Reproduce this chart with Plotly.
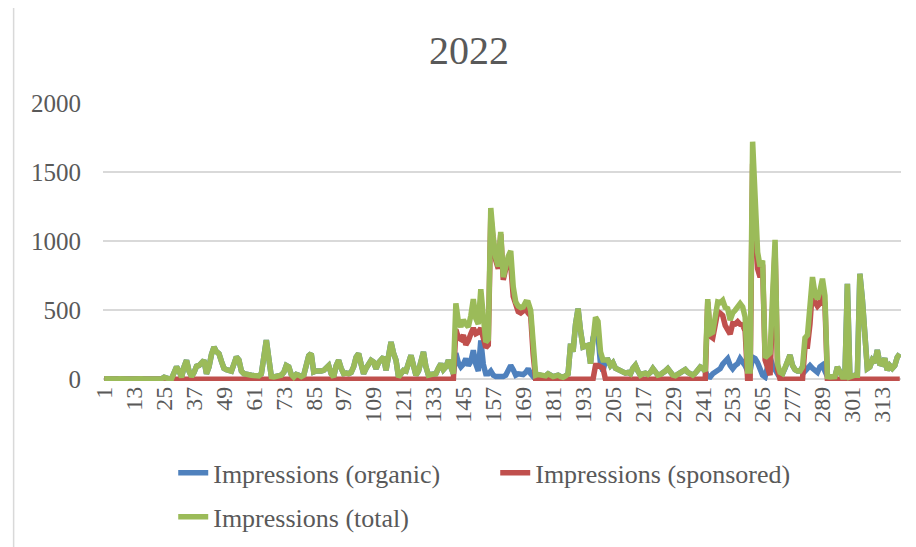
import plotly.graph_objects as go

# ---- data ----
days = list(range(1, 321))
tick_labels = [str(d) for d in range(1, 320, 12)]

org_a = [5, 3, 5, 2, 4, 3, 5, 2, 3, 4, 2, 3, 5, 2, 3, 4, 2, 3, 2, 4, 3, 2, 5, 4]
org_b = [15, 5, 3, 5, 40, 90, 60, 15, 90, 138,
         60, 20, 50, 95, 100, 120, 138, 41, 90, 180,
         234, 200, 186, 130, 80, 70, 65, 60, 110, 162,
         140, 60, 41, 35, 30, 30, 28, 30, 25, 40,
         180, 283, 150, 20, 17, 25, 25, 30, 50, 100,
         90, 35, 17, 36, 30, 20, 30, 90, 170, 186,
         53, 60, 55, 60, 65, 90, 100, 40, 17, 100,
         138, 80, 41, 45, 41, 50, 90, 160, 186, 110,
         41, 80, 120, 138, 126, 77, 120, 150, 162, 65,
         200, 270, 190, 138, 17, 40, 65, 60, 120, 174,
         100, 30, 60, 150, 198, 90, 30, 35, 40, 41,
         80, 113, 70, 90, 138, 80, 41]
org_c = [190, 120, 90, 110, 150, 100, 130, 210, 110, 60,
         282, 110, 40, 40, 60, 30, 20, 17, 17, 20,
         30, 60, 100, 70, 30, 40, 40, 35, 50, 77,
         40, 20]
spo_c = [360, 300, 290, 320, 250, 280, 330, 370, 330, 340,
         370, 300, 230, 250, 1180, 1000, 860, 800, 1050, 720,
         800, 830, 830, 600, 530, 490, 480, 490, 510, 480,
         460, 180]
org_d = [29, 35, 30, 20, 25, 40, 30, 20, 25, 30,
         20, 15, 25, 40, 258, 200, 400, 512, 350, 234,
         240, 246, 113, 300]
org_e = [350, 320, 110, 60]
spo_e = [100, 100, 90, 80]
org_f = [137, 140, 100, 120, 80, 70, 60, 50, 45, 50,
         40, 80, 102, 60, 30, 40, 45, 35, 50, 78,
         50, 30, 35, 45, 60, 78, 50, 30, 25, 35,
         45, 60, 70, 50, 40, 30, 45, 70, 90, 80,
         60]
org_g = [20, 17, 40, 53, 70, 77, 110, 130, 150, 100,
         77, 100, 113, 150, 130, 100, 60, 60, 160, 150,
         120, 77, 30, 17, 100, 160, 100, 60, 40]
spo_g = [560, 313, 300, 417, 490, 478, 462, 390, 362, 328,
         403, 400, 417, 398, 394, 350, 0, 0, 1560, 1100,
         800, 740, 830, 140, 80, 30, 500, 950, 70]
org_h = [50, 41, 80, 140, 176, 100, 70, 60, 60, 90]
org_i = [60, 80, 100, 80, 60, 50, 90, 103, 60]
spo_i = [240, 240, 400, 660, 560, 530, 550, 625, 545]
org_j = [20, 17, 15, 20, 90, 60, 17, 17, 691, 17,
         25, 30, 30, 764, 580, 300, 78, 90, 140, 120,
         213, 115, 110, 152, 66, 100, 80, 100, 160, 185]

organic = org_a + org_b + org_c + org_d + org_e + org_f + org_g + org_h + org_i + org_j
sponsored = ([0] * 24 + [0] * 117 + spo_c + [0] * 24 + spo_e + [0] * 41
             + spo_g + [0] * 10 + spo_i + [0] * 30)
total = [o + s for o, s in zip(organic, sponsored)]

series_names = ["Impressions (organic)", "Impressions (sponsored)", "Impressions (total)"]
colors = ["#4F81BD", "#C0504D", "#9BBB59"]

FONT = "Liberation Serif"
GREY = "#595959"

# page body has an 8px margin, so the figure starts 8px in from the page corner
W, H = 900, 547

fig = go.Figure()
for name, vals, col, lg in zip(series_names, [organic, sponsored, total], colors,
                               ["legend", "legend", "legend2"]):
    fig.add_trace(go.Scatter(x=days, y=vals, mode="lines", name=name,
                             line=dict(color=col, width=5.5), legend=lg))

fig.update_layout(
    width=W, height=H,
    margin=dict(l=95, r=7, t=95, b=174),
    paper_bgcolor="white", plot_bgcolor="white",
    font=dict(family=FONT, color=GREY, size=25),
    title=dict(text="2022", x=0.4587, xref="paper", xanchor="center",
               y=1 - 42 / H, yref="container", yanchor="middle",
               font=dict(family=FONT, size=40, color=GREY)),
    showlegend=True,
    legend=dict(orientation="h", x=0.088, xanchor="left", y=-0.33, yanchor="middle",
                entrywidth=277, entrywidthmode="pixels",
                font=dict(family=FONT, size=26, color=GREY), bgcolor="rgba(0,0,0,0)"),
    legend2=dict(orientation="h", x=0.088, xanchor="left", y=-0.489, yanchor="middle",
                 font=dict(family=FONT, size=26, color=GREY), bgcolor="rgba(0,0,0,0)"),
)
fig.update_xaxes(range=[0.5, 320.5], tickmode="array",
                 tickvals=[int(t) for t in tick_labels], ticktext=tick_labels,
                 tickangle=-90, showgrid=False, zeroline=False, showline=False,
                 ticks="", tickfont=dict(family=FONT, size=24, color=GREY))
fig.update_yaxes(range=[-12, 2000], tickvals=[0, 500, 1000, 1500, 2000],
                 showgrid=True, gridcolor="#D9D9D9", gridwidth=1.5,
                 zeroline=True, zerolinecolor="#D9D9D9", zerolinewidth=1.5,
                 showline=False, ticks="", ticklabelstandoff=21,
                 tickfont=dict(family=FONT, size=25, color=GREY))
fig.add_shape(type="line", xref="paper", yref="paper",
              x0=-0.112, x1=-0.112, y0=-0.65, y1=1.38,
              line=dict(color="#D9D9D9", width=1.5))

fig.write_html("out.html")
